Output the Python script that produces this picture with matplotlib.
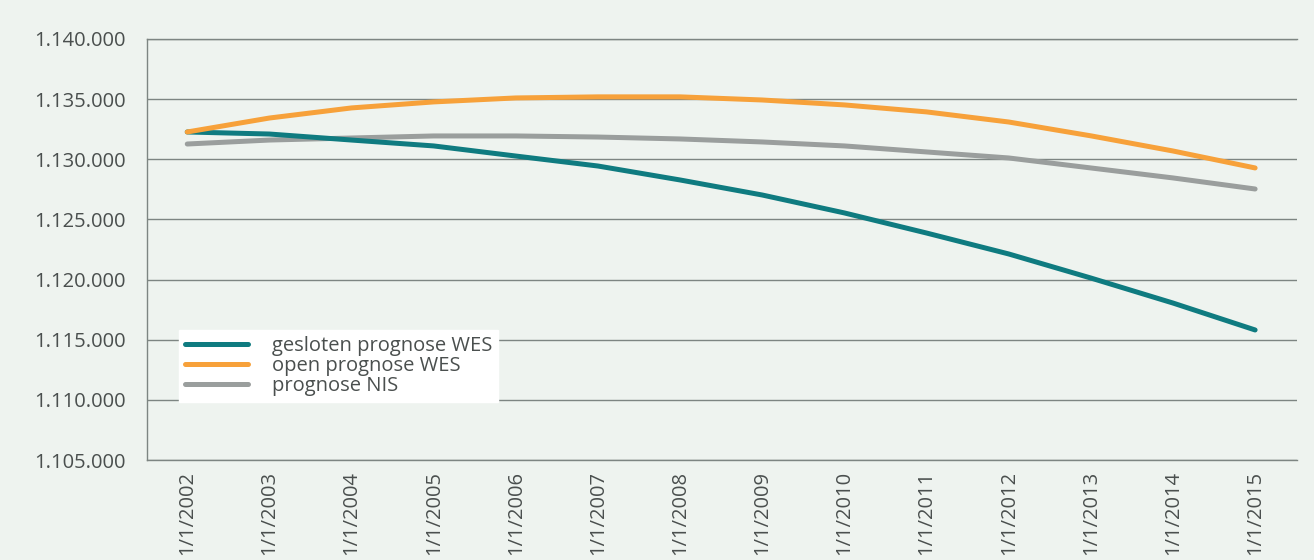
import numpy as np
import matplotlib
matplotlib.use("Agg")
import matplotlib.pyplot as plt
from matplotlib.ticker import FuncFormatter

"data read from the picture"
years = ["1/1/2002", "1/1/2003", "1/1/2004", "1/1/2005", "1/1/2006", "1/1/2007", "1/1/2008",
         "1/1/2009", "1/1/2010", "1/1/2011", "1/1/2012", "1/1/2013", "1/1/2014", "1/1/2015"]

gesloten_wes = [1132270, 1132100, 1131600, 1131110, 1130270, 1129440, 1128280,
                1127030, 1125540, 1123870, 1122130, 1120130, 1118050, 1115810]
open_wes = [1132270, 1133430, 1134270, 1134770, 1135100, 1135190, 1135190,
            1134930, 1134520, 1133940, 1133100, 1131950, 1130690, 1129280]
nis = [1131270, 1131600, 1131770, 1131940, 1131940, 1131850, 1131690,
       1131440, 1131110, 1130610, 1130110, 1129280, 1128450, 1127530]

yticks = [1105000, 1110000, 1115000, 1120000, 1125000, 1130000, 1135000, 1140000]

"style"
plt.rcParams["font.family"] = ["Open Sans", "DejaVu Sans"]
bg = "#eef3ef"
txt = "#4a4f4e"
gridc = "#7d8582"

fig = plt.figure(figsize=(13.14, 5.6), dpi=100, facecolor=bg)
ax = fig.add_axes([147 / 1314, 1 - 460 / 560, 1150 / 1314, 421 / 560])
ax.set_facecolor(bg)

x = np.arange(len(years))
ax.plot(x, gesloten_wes, color="#0f7b80", lw=3.6, solid_capstyle="round", label="gesloten prognose WES", zorder=3)
ax.plot(x, open_wes, color="#f7a13a", lw=3.6, solid_capstyle="round", label="open prognose WES", zorder=3)
ax.plot(x, nis, color="#9a9e9d", lw=3.6, solid_capstyle="round", label="prognose NIS", zorder=2)

ax.set_xlim(-0.49, 13.51)
ax.set_ylim(1105000, 1140000)
ax.set_yticks(yticks)
ax.yaxis.set_major_formatter(FuncFormatter(lambda v, p: f"{int(v):,}".replace(",", ".")))
ax.set_xticks(x)
ax.set_xticklabels(years, rotation=90, va="top", ha="center")
ax.tick_params(axis="both", length=0, labelsize=14.5, colors=txt)
ax.tick_params(axis="y", pad=15)
ax.tick_params(axis="x", pad=8)

ax.grid(axis="y", color=gridc, lw=1.0)
ax.set_axisbelow(True)
for s in ["left", "bottom", "top"]:
    ax.spines[s].set_color(gridc)
    ax.spines[s].set_linewidth(1.0)
ax.spines["right"].set_visible(False)

leg = ax.legend(loc="lower left", bbox_to_anchor=(0.028, 0.137), borderaxespad=0,
                fontsize=14.5, frameon=True, fancybox=False, handlelength=3.1,
                labelspacing=0.0, handletextpad=1.2, borderpad=0.3)
leg.get_frame().set_facecolor("white")
leg.get_frame().set_edgecolor("white")
leg.get_frame().set_alpha(1)
for t in leg.get_texts():
    t.set_color(txt)

fig.savefig("out.png", dpi=100, facecolor=bg)
